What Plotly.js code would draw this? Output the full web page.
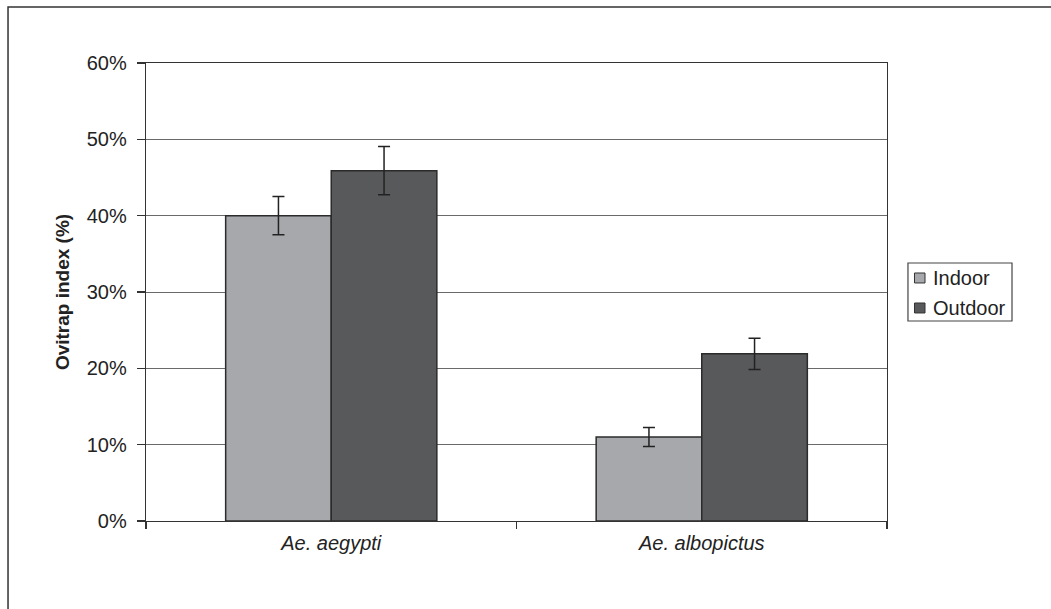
<!DOCTYPE html>
<html>
<head>
<meta charset="utf-8">
<script src="https://cdn.plot.ly/plotly-3.0.1.min.js"></script>
<style>
  html, body { margin: 0; padding: 0; background: #fff; overflow: hidden; }
  #chart { width: 1051px; height: 609px; }
</style>
</head>
<body>
<div id="chart"></div>
<script>
const categories = ["<i>Ae. aegypti</i>", "<i>Ae. albopictus</i>"];
const seriesNames = ["Indoor", "Outdoor"];
const indoorValues = [40.0, 11.0];
const indoorErrors = [2.5, 1.25];
const outdoorValues = [45.9, 21.9];
const outdoorErrors = [3.15, 2.05];
const yTickValues = [0, 10, 20, 30, 40, 50, 60];
const yTickLabels = ["0%", "10%", "20%", "30%", "40%", "50%", "60%"];

const font = "Liberation Sans, Arial, Helvetica, sans-serif";
const colors = ["#a7a8ab", "#58595b"];
const errStyle = { type: "data", visible: true, color: "#222222", thickness: 1.5, width: 6 };

const traces = [
  {
    type: "bar", name: seriesNames[0], x: categories, y: indoorValues,
    marker: { color: colors[0], line: { color: "#2b2b2b", width: 1.5 } },
    error_y: Object.assign({ array: indoorErrors }, errStyle),
    hoverinfo: "none"
  },
  {
    type: "bar", name: seriesNames[1], x: categories, y: outdoorValues,
    marker: { color: colors[1], line: { color: "#2b2b2b", width: 1.5 } },
    error_y: Object.assign({ array: outdoorErrors }, errStyle),
    hoverinfo: "none"
  }
];

// custom legend (paper coordinates)
const legendBox = { x0: 1.0283, x1: 1.1687, y0: 0.4367, y1: 0.5633 };
const legendRows = [0.5306, 0.4651];
const sqHalf = 0.0109;
const shapes = [
  {
    type: "rect", xref: "paper", yref: "paper",
    x0: -0.1862, x1: 1.5, y0: -0.5, y1: 1.1223,
    line: { color: "#333333", width: 1.5 }, fillcolor: "rgba(0,0,0,0)", layer: "below"
  },
  {
    type: "rect", xref: "paper", yref: "paper",
    x0: legendBox.x0, x1: legendBox.x1, y0: legendBox.y0, y1: legendBox.y1,
    line: { color: "#444444", width: 1.2 }, fillcolor: "#ffffff"
  }
];
const annotations = [];
seriesNames.forEach((name, i) => {
  shapes.push({
    type: "rect", xref: "paper", yref: "paper",
    x0: 1.0371, x1: 1.0513, y0: legendRows[i] - sqHalf, y1: legendRows[i] + sqHalf,
    line: { color: "#333333", width: 1 }, fillcolor: colors[i]
  });
  annotations.push({
    xref: "paper", yref: "paper", x: 1.0594, y: legendRows[i],
    xanchor: "left", yanchor: "middle", text: name, showarrow: false,
    font: { family: font, size: 20, color: "#222222" }
  });
});

const layout = {
  width: 1051, height: 609,
  margin: { l: 146, r: 164, t: 63, b: 88, pad: 0 },
  paper_bgcolor: "#ffffff", plot_bgcolor: "#ffffff",
  font: { family: font, size: 20, color: "#222222" },
  barmode: "group", bargap: 0.43, bargroupgap: 0,
  showlegend: false,
  xaxis: {
    type: "category", tickson: "boundaries", ticks: "outside", ticklen: 7,
    tickcolor: "#333333", tickwidth: 1.3,
    showline: true, linecolor: "#333333", linewidth: 1.3, mirror: true,
    showgrid: false, zeroline: false, fixedrange: true,
    tickfont: { family: font, size: 20, color: "#222222" },
    ticklabelstandoff: 4
  },
  yaxis: {
    range: [0, 60], tickmode: "array", tickvals: yTickValues, ticktext: yTickLabels,
    ticks: "outside", ticklen: 8, tickcolor: "#333333", tickwidth: 1.3,
    showline: true, linecolor: "#333333", linewidth: 1.3, mirror: true,
    showgrid: true, gridcolor: "#6a6a6a", gridwidth: 1, zeroline: false, fixedrange: true,
    tickfont: { family: font, size: 20, color: "#222222" },
    ticklabelstandoff: 6,
    title: { text: "<b>Ovitrap index (%)</b>", font: { family: font, size: 19, color: "#222222" }, standoff: 12 }
  },
  shapes: shapes,
  annotations: annotations
};

Plotly.newPlot("chart", traces, layout, { staticPlot: true, displayModeBar: false });
</script>
</body>
</html>
